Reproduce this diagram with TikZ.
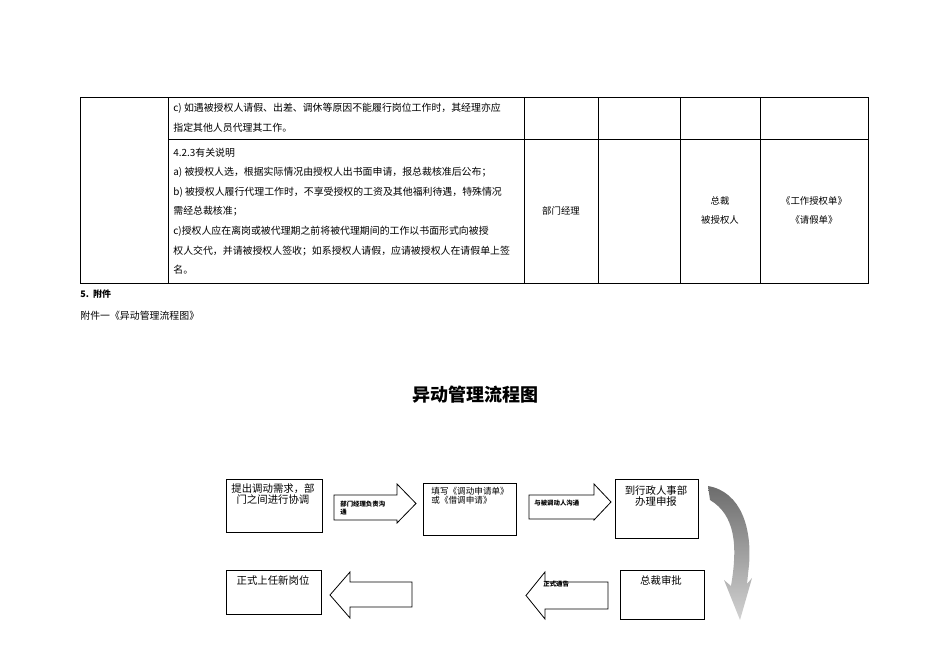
\documentclass[tikz,border=0pt]{standalone}
\usepackage{fontspec}
\newfontfamily\cjk{Noto Sans CJK SC}
\begin{document}
\begin{tikzpicture}[x=0.5pt,y=-0.5pt,
  tbl/.style={font=\cjk\fontsize{4.95}{5.4}\selectfont,anchor=west,inner sep=0},
  ctr/.style={font=\cjk\fontsize{4.7}{5}\selectfont,inner sep=0},
  fbox/.style={draw,line width=0.5pt,anchor=north west,inner sep=0},
  ftxt/.style={font=\cjk\fontsize{5.2}{5.6}\selectfont,align=center,inner sep=0},
  atxt/.style={font=\cjk\bfseries\fontsize{3.2}{3.6}\selectfont,align=left,inner sep=0,anchor=west},
  arr/.style={draw,line width=0.4pt,fill=white}]
\useasboundingbox (0,0) rectangle (950,672);
% table
\draw[line width=0.5pt] (80,98) rectangle (868,284);
\draw[line width=0.4pt] (168,139) -- (868,139);
\foreach \x in {168,524,598,680,760} \draw[line width=0.4pt] (\x,98) -- (\x,284);
\node[tbl] (r1) at (173,108) {c) 如遇被授权人请假、出差、调休等原因不能履行岗位工作时，其经理亦应};
\node[tbl] (r2) at (173,128) {指定其他人员代理其工作。};
\node[tbl] (s1) at (173,153) {4.2.3有关说明};
\node[tbl] (s2) at (173,172) {a) 被授权人选，根据实际情况由授权人出书面申请，报总裁核准后公布；};
\node[tbl] (s3) at (173,192) {b) 被授权人履行代理工作时，不享受授权的工资及其他福利待遇，特殊情况};
\node[tbl] (s4) at (173,211) {需经总裁核准；};
\node[tbl] (s5) at (173,231) {c)授权人应在离岗或被代理期之前将被代理期间的工作以书面形式向被授};
\node[tbl] (s6) at (173,251) {权人交代，并请被授权人签收；如系授权人请假，应请被授权人在请假单上签};
\node[tbl] (s7) at (173,270) {名。};
\node[ctr] (c1) at (561,211) {部门经理};
\node[ctr] (c2) at (720,201) {总裁};
\node[ctr] (c3) at (720,220) {被授权人};
\node[ctr] (c4) at (814,201) {《工作授权单》};
\node[ctr] (c5) at (814,220) {《请假单》};
\node[tbl,font=\cjk\bfseries\fontsize{4.5}{5}\selectfont] (h5) at (80,294) {5.\ \ 附件};
\node[tbl] (h6) at (80,316) {附件一《异动管理流程图》};
\node[font=\cjk\bfseries\fontsize{9}{10}\selectfont,inner sep=0] (title) at (475,395) {异动管理流程图};
% boxes
\node[fbox,minimum width=48pt,minimum height=26.5pt] (b1) at (226,479) {};
\node[ftxt,anchor=north] at (273,483) {提出调动需求，部\\门之间进行协调};
\node[fbox,minimum width=46.5pt,minimum height=26pt] (b2) at (423,483) {};
\node[ftxt,anchor=north west,align=left,font=\cjk\fontsize{4.3}{4.6}\selectfont] at (431,487) {填写《调动申请单》\\或《借调申请》};
\node[fbox,minimum width=41.5pt,minimum height=29.5pt] (b3) at (615,479) {};
\node[ftxt,anchor=north] at (656,485) {到行政人事部\\办理申报};
\node[fbox,minimum width=42pt,minimum height=24.5pt] (b4) at (620,570) {};
\node[ftxt,anchor=north] at (661,575) {总裁审批};
\node[fbox,minimum width=47.5pt,minimum height=22pt] (b5) at (226,570) {};
\node[ftxt,anchor=north] at (273,575) {正式上任新岗位};
% right arrows
\draw[arr] (334,495) -- (397,495) -- (397,484) -- (416,503.5) -- (397,523) -- (397,520) -- (334,520) -- cycle;
\node[atxt] at (340,508) {部门经理负责沟\\通};
\draw[arr] (529,495) -- (594,495) -- (594,484) -- (611,502) -- (594,520) -- (594,519) -- (529,519) -- cycle;
\node[atxt] at (534,503) {与被调动人沟通};
% left arrows
\draw[arr] (608,582) -- (545,582) -- (545,572) -- (526,595.5) -- (545,619) -- (545,609) -- (608,609) -- cycle;
\node[atxt] at (543,584) {正式通告};
\draw[arr] (412,582) -- (350,582) -- (350,572) -- (330,595) -- (350,618) -- (350,607) -- (412,607) -- cycle;
% curved arrow
\shade[top color=gray!85!black,bottom color=gray!35]
  (708,486) .. controls (742,492) and (752,530) .. (749,565)
  -- (747,584) -- (752,578) -- (740,620) -- (724,580) -- (731,586)
  .. controls (738,545) and (735,515) .. (710,500) -- cycle;
\end{tikzpicture}
\end{document}
